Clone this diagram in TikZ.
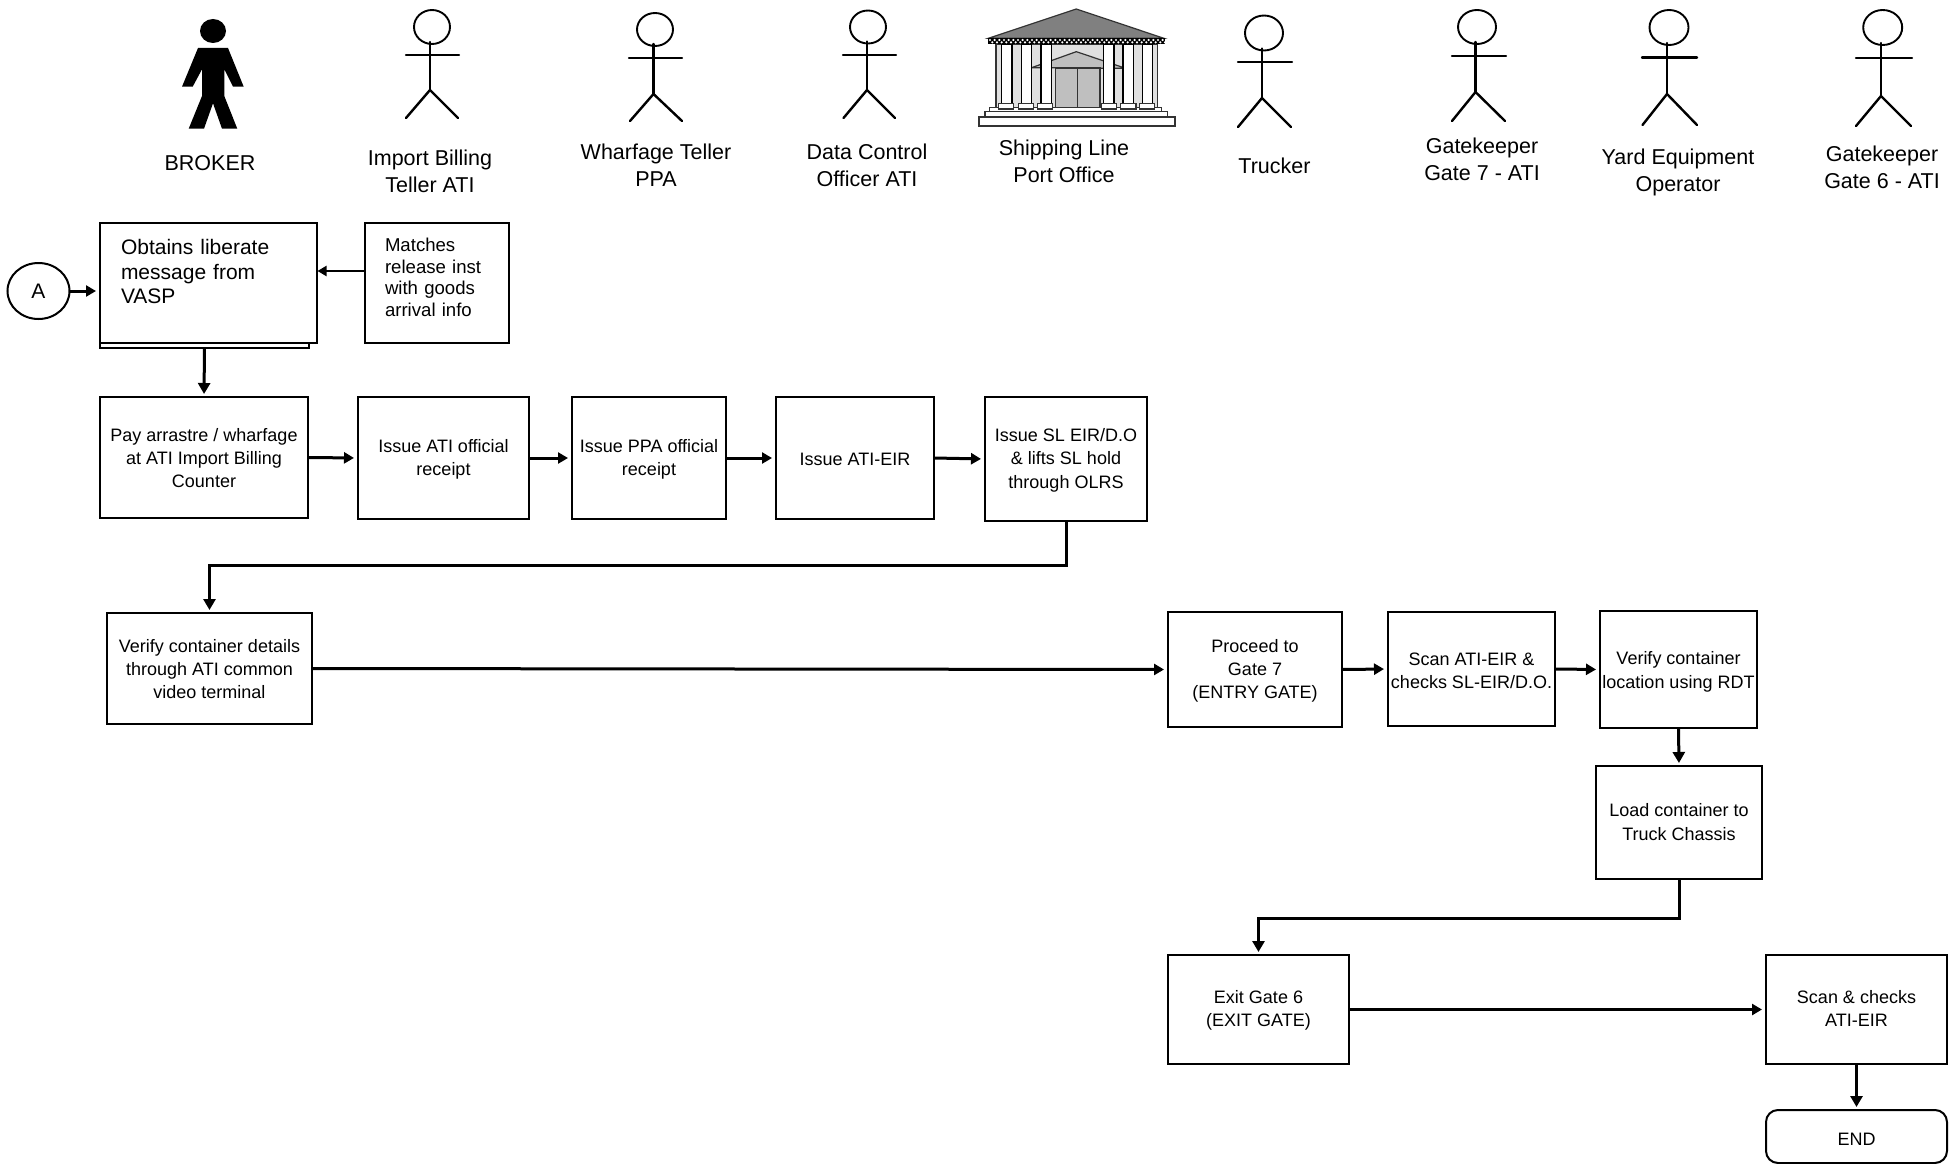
\documentclass[tikz,border=0pt]{standalone}
\usepackage{fontspec}
\setmainfont{Liberation Sans}
\usetikzlibrary{arrows.meta,positioning,calc,shapes.geometric}
\definecolor{roofgray}{HTML}{808080}
\definecolor{wallgray}{HTML}{E0E0E0}
\definecolor{doorgray}{HTML}{BFBFBF}
\definecolor{edgegray}{HTML}{333333}
\tikzset{
  box/.style={draw=black,line width=2pt,fill=white,outer sep=0pt,inner sep=0pt,align=center,font=\fontsize{18}{23.2}\selectfont},
  toplabel/.style={align=center,inner sep=0pt,font=\fontsize{21.5}{27}\selectfont},
  flow/.style={draw=black,line width=3pt,shorten >=4pt,-{Triangle[length=10pt,width=11pt]}},
  downflow/.style={draw=black,line width=3pt,shorten >=3pt,-{Triangle[length=11pt,width=12pt]}},
  thinflow/.style={draw=black,line width=2.2pt,shorten >=0.5pt,-{Triangle[length=9pt,width=10pt]}},
  stick/.style={draw=black,line width=2.4pt,line cap=round},
  stickhead/.style={draw=black,line width=1.9pt},
  bldg/.style={draw=edgegray,line width=1.2pt},
}
% box given by its corners; text follows as a node text
\newcommand{\bx}[6]{\node[box,minimum width={(#4-#2)*1pt},minimum height={(#5-#3)*1pt},#6] (#1) at ({(#2+#4)/2},{(#3+#5)/2})}
% same, centred text nudged down by #7 (px)
\newcommand{\bxt}[8]{\bx{#1}{#2}{#3}{#4}{#5}{#6}{\mbox{}\\[\dimexpr #7pt*2-10.2pt\relax]#8}}
\begin{document}
\begin{tikzpicture}[x=1pt,y=-1pt]
\path[use as bounding box,fill=white] (0,0) rectangle (1955,1164);

% actors
\fill[black] (213,31) ellipse (13 and 12);
\fill[black] (198,48) -- (228,48) -- (243.7,86.7) -- (233,86.7) -- (224.3,69.3) -- (224.3,96) -- (237.3,128.7) -- (222,128.7) -- (213,103.3) -- (204,128.7) -- (188.7,128.7) -- (202,96) -- (202,69.3) -- (192.7,86.7) -- (182,86.7) -- cycle;
\foreach \hx/\hy/\rx/\ry/\cx/\ay/\al/\ar/\hipy/\fy/\fl/\fr in {
  432/27/18/17/430/55/406/459/90/118/406/458,
  655/29.5/18/16.5/653.5/58/629/682/94/121/630/682,
  868/27/18/16.5/867/55/843/896/90/118/843.5/895,
  1264/33/19/17.5/1262/62/1238/1292/98/127/1238/1291,
  1477/27/19/17/1475.5/56/1452/1506/92/121/1452/1505,
  1669/27.5/19.5/17.5/1667/57.5/1642/1697/94/125/1642.5/1697,
  1882.7/27.5/19.5/17.5/1881/58/1856/1912/96/126/1856/1911} {
  \draw[stickhead] (\hx,\hy) ellipse ({\rx} and {\ry});
  \draw[stick] (\cx,\hy+\ry-2) -- (\cx,\hipy);
  \draw[stick] (\al,\ay) -- (\ar,\ay);
  \draw[stick] (\fl,\fy) -- (\cx,\hipy) -- (\fr,\fy);
}

% building
\begin{scope}[shift={(960,0)},x=0.33333pt,y=-0.33333pt]
  \draw[bldg,fill=wallgray] (108,132) rectangle (592,322);
  \draw[bldg,fill=doorgray] (215,203) -- (349,155) -- (497,205) -- cycle;
  \draw[bldg,fill=doorgray] (286,204) rectangle (420,322);
  \draw[bldg] (352,204) -- (352,322);
  \foreach \a/\b in {124/156,184/214,243/274,430/462,489/520,547/578}
    \draw[draw=black,line width=1.2pt,fill=white] (\a,132) rectangle (\b,310);
  \draw[bldg,fill=white] (88,322) rectangle (604,334);
  \foreach \a/\b in {115/160,175/220,232/277,424/469,482/528,539/583}
    \draw[bldg,fill=white] (\a,310) rectangle (\b,327);
  \draw[bldg,fill=white] (75,334) rectangle (622,351);
  \draw[bldg,fill=white] (57,351) rectangle (645,378);
  \draw[bldg,fill=roofgray] (85,115) -- (349,27) -- (612,115) -- cycle;
  \fill[black] (83,115) rectangle (614,133);
  \foreach \i in {0,...,37} {
    \fill[white] ({90+\i*14},120) circle (3.6);
    \fill[white] ({97+\i*14},127) circle (3.6);
  }
\end{scope}

% actor labels
\node[toplabel] (lbroker) at (210,163) {BROKER};
\node[toplabel] (limport) at (430,171) {Import Billing\\Teller ATI};
\node[toplabel] (lwharf) at (656,165.5) {Wharfage Teller\\PPA};
\node[toplabel] (ldata) at (867,165.5) {Data Control\\Officer ATI};
\node[toplabel] (lship) at (1064,161) {Shipping Line\\Port Office};
\node[toplabel] (ltruck) at (1274.5,166) {Trucker};
\node[toplabel] (lgate) at (1482,159) {Gatekeeper\\Gate 7 - ATI};
\node[toplabel] (lyard) at (1678,172.5) {Yard Equipment\\Operator};
\node[toplabel] (lgatesix) at (1882,167) {Gatekeeper\\Gate 6 - ATI};

% start
\node[draw=black,line width=2pt,ellipse,minimum width=62pt,minimum height=56pt,inner sep=0pt,outer sep=0pt,font=\fontsize{21}{24}\selectfont] (a) at (38.5,291) {A};

% boxes
\bx{obtainsback}{100}{240}{309}{348}{}{};
\bx{obtains}{100}{223}{317}{343}{text width=175pt,align=left,font=\fontsize{21}{24.4}\selectfont}{Obtains liberate\\message from\\VASP\\[-1.5pt]\mbox{}};
\bx{matches}{365}{223}{509}{343}{text width=104pt,align=left,font=\fontsize{18.6}{21.6}\selectfont}{Matches\\release inst\\with goods\\arrival info\\[-10pt]\mbox{}};
\bxt{pay}{100}{397}{308}{518}{}{0.6}{Pay arrastre / wharfage\\at ATI Import Billing\\Counter};
\bxt{atir}{358}{397}{529}{519}{}{1.6}{Issue ATI official\\receipt};
\bxt{ppar}{572}{397}{726}{519}{}{1.6}{Issue PPA official\\receipt};
\bxt{atieir}{776}{397}{934}{519}{}{1.2}{Issue ATI-EIR};
\bxt{sleir}{985}{397}{1147}{521}{}{1.2}{Issue SL EIR/D.O\\\& lifts SL hold\\through OLRS};
\bxt{verify}{107}{613}{312}{724}{}{0.6}{Verify container details\\through ATI common\\video terminal};
\bxt{proceed}{1168}{612}{1342}{727}{}{1.2}{Proceed to\\Gate 7\\(ENTRY GATE)};
\bxt{scan}{1388}{612}{1555}{726}{}{1.2}{Scan ATI-EIR \&\\checks SL-EIR/D.O.};
\bxt{loc}{1600}{611}{1757}{728}{}{2.4}{Verify container\\location using RDT};
\bxt{load}{1596}{766}{1762}{879}{}{-0.5}{Load container to\\Truck Chassis};
\bxt{exit}{1168}{955}{1349}{1064}{}{1.2}{Exit Gate 6\\(EXIT GATE)};
\bxt{scanout}{1766}{955}{1947}{1064}{}{-1.2}{Scan \& checks\\ATI-EIR};
\bxt{end}{1766}{1110}{1947}{1163}{rounded corners=12pt}{2.5}{END};

% connectors
\draw[flow] (a.east) -- (a.east -| obtains.west);
\draw[thinflow] ([yshift=12pt]matches.west) -- ([yshift=12pt]obtains.east);
\draw[downflow] (obtainsback.south) -- (pay.north);
\draw[flow] (pay.east) -- (atir.west);
\draw[flow] (atir.east) -- (ppar.west);
\draw[flow] (ppar.east) -- (atieir.west);
\draw[flow] (atieir.east) -- (sleir.west);
\draw[downflow] (sleir.south) -- ++(0,44) -| (verify.north);
\draw[flow] (verify.east) -- (proceed.west);
\draw[flow] (proceed.east) -- (scan.west);
\draw[flow] (scan.east) -- (loc.west);
\draw[downflow] (loc.south) -- (load.north);
\draw[downflow] (load.south) -- ++(0,39) -| (exit.north);
\draw[flow] (exit.east) -- (scanout.west);
\draw[downflow] (scanout.south) -- (end.north);
\end{tikzpicture}
\end{document}
